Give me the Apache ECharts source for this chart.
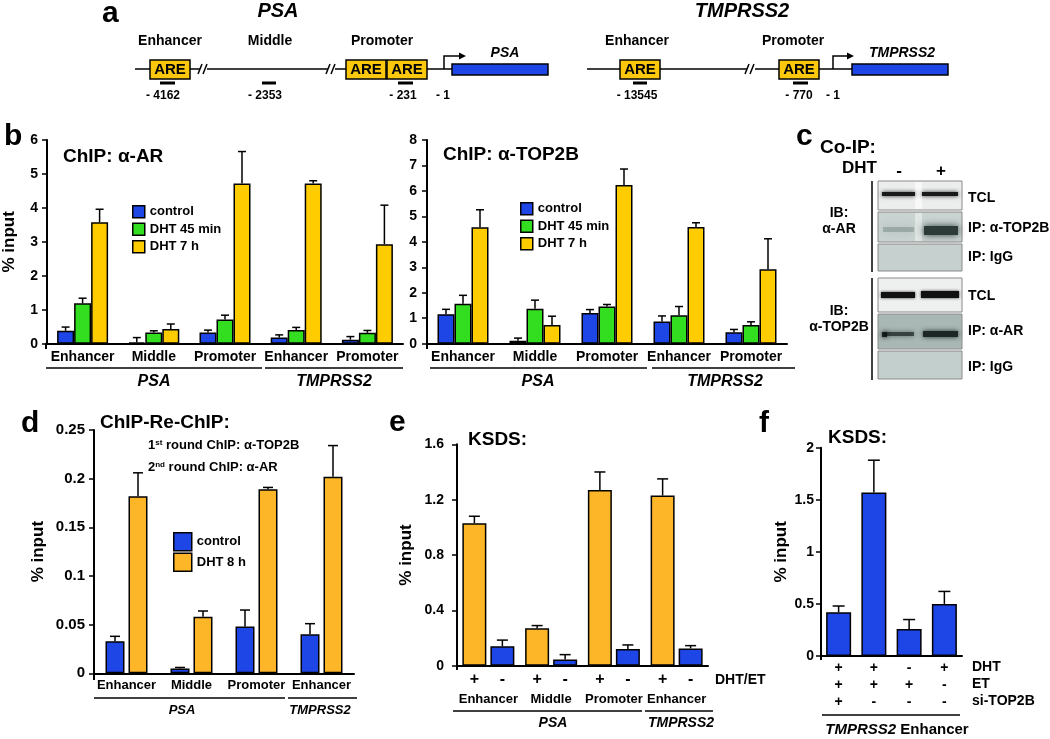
<!DOCTYPE html>
<html>
<head>
<meta charset="utf-8">
<script src="https://cdn.jsdelivr.net/npm/echarts@6/dist/echarts.min.js"></script>
<style>
html,body{margin:0;padding:0;background:#fff;}
#chart{width:1050px;height:739px;}
</style>
</head>
<body>
<div id="chart"></div>
<script>
// ---------------- DATA ----------------
// Panel b (ChIP: alpha-AR and alpha-TOP2B), % input
const catsB = ['Enhancer', 'Middle', 'Promoter', 'Enhancer', 'Promoter'];
const arControl   = [0.38, 0.04, 0.33, 0.18, 0.12];
const arControlSD = [0.11, 0.14, 0.07, 0.08, 0.09];
const arDHT45     = [1.19, 0.33, 0.71, 0.40, 0.32];
const arDHT45SD   = [0.15, 0.05, 0.13, 0.08, 0.07];
const arDHT7      = [3.58, 0.43, 4.72, 4.72, 2.93];
const arDHT7SD    = [0.38, 0.15, 0.94, 0.08, 1.15];

const topControl   = [1.16, 0.12, 1.21, 0.87, 0.45];
const topControlSD = [0.19, 0.10, 0.13, 0.22, 0.11];
const topDHT45     = [1.57, 1.37, 1.46, 1.12, 0.73];
const topDHT45SD   = [0.33, 0.34, 0.08, 0.34, 0.13];
const topDHT7      = [4.57, 0.73, 6.23, 4.58, 2.92];
const topDHT7SD    = [0.69, 0.35, 0.63, 0.17, 1.20];

// Panel d (ChIP-Re-ChIP)
const catsD = ['Enhancer', 'Middle', 'Promoter', 'Enhancer'];
const reControl   = [0.033, 0.005, 0.048, 0.040];
const reControlSD = [0.005, 0.001, 0.017, 0.011];
const reDHT8      = [0.182, 0.058, 0.189, 0.202];
const reDHT8SD    = [0.024, 0.006, 0.002, 0.032];

// Panel e (KSDS), + / - DHT/ET
const catsE = ['Enhancer', 'Middle', 'Promoter', 'Enhancer'];
const ePlus    = [1.03, 0.27, 1.27, 1.23];
const ePlusSD  = [0.05, 0.02, 0.13, 0.12];
const eMinus   = [0.14, 0.045, 0.12, 0.125];
const eMinusSD = [0.045, 0.035, 0.03, 0.02];
const eSigns   = ['+', '-'];

// Panel f (KSDS, TMPRSS2 enhancer)
const fDHT = ['+', '+', '-', '+'];
const fET  = ['+', '+', '+', '-'];
const fSi  = ['+', '-', '-', '-'];
const fVal = [0.42, 1.57, 0.26, 0.50];
const fSD  = [0.06, 0.31, 0.09, 0.12];

// y tick ranges
const yB1 = {min: 0, max: 6, interval: 1};
const yB2 = {min: 0, max: 8, interval: 1};
const yD  = {min: 0, max: 0.25, interval: 0.05};
const yE  = {min: 0, max: 1.6, interval: 0.4};
const yF  = {min: 0, max: 2, interval: 0.5};

// ---------------- STYLE ----------------
const FONT = 'Arial, "Liberation Sans", Helvetica, sans-serif';
const BLUE = '#1e45e6', GREEN = '#33dd1f', YEL = '#ffcc00', ORG = '#fcb628';

const chart = echarts.init(document.getElementById('chart'), null, {renderer: 'canvas'});

function xAx(gi, data, margin, fs, extra) {
  return Object.assign({
    type: 'category', gridIndex: gi, data: data,
    axisLine: {show: true, lineStyle: {color: '#000', width: 2}},
    axisTick: {show: false},
    splitLine: {show: false},
    axisLabel: {color: '#000', fontWeight: 'bold', fontSize: fs, fontFamily: FONT, margin: margin, interval: 0}
  }, extra || {});
}
function yAx(gi, rng, margin, name, gap, fs) {
  return {
    type: 'value', gridIndex: gi, min: rng.min, max: rng.max, interval: rng.interval,
    axisLine: {show: true, lineStyle: {color: '#000', width: 2}},
    axisTick: {show: true, length: 5, lineStyle: {color: '#000', width: 1.5}},
    splitLine: {show: false},
    axisLabel: {color: '#000', fontWeight: 'bold', fontSize: fs || 14, fontFamily: FONT, margin: margin,
      formatter: v => String(+v.toFixed(2))},
    name: name, nameLocation: 'middle', nameRotate: 90, nameGap: gap,
    nameTextStyle: {color: '#000', fontWeight: 'bold', fontSize: 17, fontFamily: FONT}
  };
}
function bars(name, data, color, ai, width, gap, extra) {
  return Object.assign({
    type: 'bar', name: name, data: data, xAxisIndex: ai, yAxisIndex: ai,
    barWidth: width, barGap: gap, z: 2, silent: true,
    itemStyle: {color: color, borderColor: '#000', borderWidth: 1.5}
  }, extra || {});
}
function errBars(means, sds, ai, offset, cap) {
  return {
    type: 'custom', xAxisIndex: ai, yAxisIndex: ai, z: 5, silent: true, clip: false,
    data: means.map((m, i) => [i, m, m + sds[i]]),
    encode: {x: 0, y: [1, 2]},
    renderItem: function (params, api) {
      const base = api.coord([api.value(0), api.value(1)]);
      const top = api.coord([api.value(0), api.value(2)]);
      const x = base[0] + offset;
      return {type: 'group', children: [
        {type: 'line', shape: {x1: x, y1: base[1], x2: x, y2: top[1]}, style: {stroke: '#000', lineWidth: 1.5}},
        {type: 'line', shape: {x1: x - cap / 2, y1: top[1], x2: x + cap / 2, y2: top[1]}, style: {stroke: '#000', lineWidth: 1.5}}
      ]};
    }
  };
}

// ---------------- GRAPHIC HELPERS ----------------
const G = [];
function T(x, y, text, size, o) {
  o = o || {};
  G.push({type: 'text', x: x, y: y, silent: true, z: 10, style: {
    text: text, fontSize: size, fontWeight: o.weight || 'bold', fontStyle: o.italic ? 'italic' : 'normal',
    fontFamily: FONT, fill: '#000', align: o.align || 'left', verticalAlign: 'middle', rich: o.rich
  }});
}
function L(x1, y1, x2, y2, w) {
  G.push({type: 'line', silent: true, z: 10, shape: {x1: x1, y1: y1, x2: x2, y2: y2}, style: {stroke: '#000', lineWidth: w || 1.5}});
}
function R(x, y, w, h, fill, stroke, lw, extra) {
  G.push({type: 'rect', silent: true, z: 10, shape: {x: x, y: y, width: w, height: h},
    style: Object.assign({fill: fill, stroke: stroke || null, lineWidth: lw || 0}, extra || {})});
}

// ---------- Panel letters ----------
T(102, 14, 'a', 30); T(4, 137, 'b', 30); T(796, 137, 'c', 30);
T(21, 424, 'd', 30); T(389, 423, 'e', 30); T(759, 424, 'f', 30);

// ---------- Panel a: gene schematics ----------
T(278, 11, 'PSA', 20, {align: 'center', italic: true});
T(742, 11, 'TMPRSS2', 20, {align: 'center', italic: true});
// PSA locus
L(135, 69, 200, 69); L(207, 69, 328, 69); L(335, 69, 452, 69);
L(198, 74, 202, 64); L(203, 74, 207, 64);
L(326, 74, 330, 64); L(331, 74, 335, 64);
R(150, 60, 40, 19, '#fcc80e', '#000', 1.5);
R(346, 60, 40, 19, '#fcc80e', '#000', 1.5);
R(387, 60, 40, 19, '#fcc80e', '#000', 1.5);
T(170, 70, 'ARE', 15, {align: 'center'}); T(366, 70, 'ARE', 15, {align: 'center'}); T(407, 70, 'ARE', 15, {align: 'center'});
R(452, 64, 96, 11, BLUE, '#000', 1.5);
G.push({type: 'polyline', silent: true, z: 10, shape: {points: [[444, 69], [444, 56], [460, 56]]}, style: {stroke: '#000', lineWidth: 1.5, fill: null}});
G.push({type: 'polygon', silent: true, z: 10, shape: {points: [[459, 52.5], [466, 56], [459, 59.5]]}, style: {fill: '#000'}});
T(505, 53, 'PSA', 14, {align: 'center', italic: true});
T(170, 41, 'Enhancer', 14, {align: 'center'}); T(270, 41, 'Middle', 14, {align: 'center'}); T(382, 41, 'Promoter', 14, {align: 'center'});
L(160, 83, 175, 83, 3); L(262, 83, 276, 83, 3); L(398, 83, 413, 83, 3);
T(163, 96, '- 4162', 12, {align: 'center'}); T(265, 96, '- 2353', 12, {align: 'center'});
T(403, 96, '- 231', 12, {align: 'center'}); T(443, 96, '- 1', 12, {align: 'center'});
// TMPRSS2 locus
L(587, 69, 747, 69); L(755, 69, 852, 69);
L(745, 74, 749, 64); L(750, 74, 754, 64);
R(620, 60, 40, 19, '#fcc80e', '#000', 1.5);
R(779, 60, 40, 19, '#fcc80e', '#000', 1.5);
T(640, 70, 'ARE', 15, {align: 'center'}); T(799, 70, 'ARE', 15, {align: 'center'});
R(852, 64, 96, 11, BLUE, '#000', 1.5);
G.push({type: 'polyline', silent: true, z: 10, shape: {points: [[833, 69], [833, 56], [848, 56]]}, style: {stroke: '#000', lineWidth: 1.5, fill: null}});
G.push({type: 'polygon', silent: true, z: 10, shape: {points: [[847, 52.5], [854, 56], [847, 59.5]]}, style: {fill: '#000'}});
T(902, 53, 'TMPRSS2', 14, {align: 'center', italic: true});
T(637, 41, 'Enhancer', 14, {align: 'center'}); T(793, 41, 'Promoter', 14, {align: 'center'});
L(633, 83, 647, 83, 3); L(793, 83, 808, 83, 3);
T(637, 96, '- 13545', 12, {align: 'center'}); T(799, 96, '- 770', 12, {align: 'center'}); T(833, 96, '- 1', 12, {align: 'center'});

// ---------- Panel b titles & group labels ----------
T(63, 157, 'ChIP: α-AR', 19);
T(443, 155, 'ChIP: α-TOP2B', 19);
L(46, 368, 262, 368, 1.5); L(265, 368, 403, 368, 1.5);
T(154, 382, 'PSA', 16, {align: 'center', italic: true}); T(334, 382, 'TMPRSS2', 16, {align: 'center', italic: true});
L(430, 368, 647, 368, 1.5); L(652, 368, 795, 368, 1.5);
T(538, 382, 'PSA', 16, {align: 'center', italic: true}); T(725, 382, 'TMPRSS2', 16, {align: 'center', italic: true});
// small y-axis extensions below the x axes
L(46, 343, 46, 349, 2); L(427, 343, 427, 349, 2);
L(94, 673, 94, 680, 2); L(457, 665, 457, 670, 2); L(821, 655, 821, 660, 2);

// ---------- Panel c: Co-IP blots ----------
T(820, 148, 'Co-IP:', 19);
T(877, 168, 'DHT', 17, {align: 'right'});
T(899, 171, '-', 17, {align: 'center'}); T(941, 171, '+', 17, {align: 'center'});
L(872, 181, 872, 272, 1.5); L(872, 278, 872, 380, 1.5);
T(839, 213, 'IB:', 14, {align: 'center'}); T(839, 229, 'α-AR', 14, {align: 'center'});
T(839, 311, 'IB:', 14, {align: 'center'}); T(839, 327, 'α-TOP2B', 14, {align: 'center'});
// blot panels
R(878, 181, 84, 29, '#eceeed', '#8a8a8a', 1);
R(878, 212, 84, 30, '#c9d3d1', '#8a8a8a', 1);
R(878, 244, 84, 27, '#c6d1cf', '#8a8a8a', 1);
R(878, 278, 84, 34, '#eef0ef', '#8a8a8a', 1);
R(878, 314, 84, 35, '#a9b8b5', '#8a8a8a', 1);
R(878, 351, 84, 28, '#c3cfcd', '#8a8a8a', 1);
// lane dividers
R(915, 182, 7, 27, '#f7f8f7'); R(915, 213, 7, 28, '#dfe6e4');
// bands
R(882, 192, 33, 4, '#1a1a1a', null, 0, {shadowBlur: 4, shadowColor: 'rgba(0,0,0,0.8)'});
R(922, 192, 36, 4, '#1a1a1a', null, 0, {shadowBlur: 4, shadowColor: 'rgba(0,0,0,0.8)'});
R(883, 227, 31, 5, 'rgba(70,92,90,0.3)', null, 0, {shadowBlur: 8, shadowColor: 'rgba(70,92,90,0.6)'});
R(924, 226, 34, 9, '#2c3a38', null, 0, {shadowBlur: 7, shadowColor: 'rgba(30,45,43,0.9)'});
R(881, 292, 34, 6, '#111', null, 0, {shadowBlur: 3, shadowColor: 'rgba(0,0,0,0.8)'});
R(921, 291, 38, 7, '#111', null, 0, {shadowBlur: 3, shadowColor: 'rgba(0,0,0,0.8)'});
R(884, 332, 30, 4, 'rgba(25,35,33,0.7)', null, 0, {shadowBlur: 5, shadowColor: 'rgba(25,35,33,0.8)'});
R(882, 332, 5, 5, 'rgba(15,20,20,0.9)', null, 0, {shadowBlur: 5, shadowColor: 'rgba(0,0,0,0.9)'});
R(923, 331, 35, 6, '#1c2624', null, 0, {shadowBlur: 5, shadowColor: 'rgba(20,30,28,0.9)'});
T(968, 198, 'TCL', 14); T(968, 228, 'IP: α-TOP2B', 14); T(968, 257, 'IP: IgG', 14);
T(968, 296, 'TCL', 14); T(968, 331, 'IP: α-AR', 14); T(968, 367, 'IP: IgG', 14);

// ---------- Panel d text ----------
T(100, 423, 'ChIP-Re-ChIP:', 19);
T(148, 445, '{n|1}{s|st}{n| round ChIP: α-TOP2B}', 13, {rich: {n: {fontSize: 13, fontWeight: 'bold', fontFamily: FONT}, s: {fontSize: 8, fontWeight: 'bold', fontFamily: FONT, verticalAlign: 'top'}}});
T(148, 467, '{n|2}{s|nd}{n| round ChIP: α-AR}', 13, {rich: {n: {fontSize: 13, fontWeight: 'bold', fontFamily: FONT}, s: {fontSize: 8, fontWeight: 'bold', fontFamily: FONT, verticalAlign: 'top'}}});
L(94, 698, 285, 698, 1.5); L(288, 698, 357, 698, 1.5);
T(182, 710, 'PSA', 13, {align: 'center', italic: true}); T(320, 710, 'TMPRSS2', 13, {align: 'center', italic: true});

// ---------- Panel e text ----------
T(468, 440, 'KSDS:', 19);
T(715, 680, 'DHT/ET', 14);
L(453, 711, 642, 711, 1.5); L(645, 711, 713, 711, 1.5);
T(553, 723, 'PSA', 14, {align: 'center', italic: true}); T(681, 723, 'TMPRSS2', 14, {align: 'center', italic: true});

// ---------- Panel f text ----------
T(828, 438, 'KSDS:', 19);
T(972, 667, 'DHT', 14); T(972, 684, 'ET', 14); T(972, 701, 'si-TOP2B', 14);
L(822, 715, 960, 715, 1.5);
T(897, 730, '{i|TMPRSS2} {n|Enhancer}', 15, {align: 'center', rich: {
  i: {fontSize: 15, fontWeight: 'bold', fontStyle: 'italic', fontFamily: FONT},
  n: {fontSize: 15, fontWeight: 'bold', fontFamily: FONT}}});

const catsF = fDHT.map((d, i) => d + '\n' + fET[i] + '\n' + fSi[i]);

// ---------------- OPTION ----------------
const legendText = {color: '#000', fontWeight: 'bold', fontSize: 13, fontFamily: FONT};
const option = {
  animation: false,
  backgroundColor: '#fff',
  grid: [
    {left: 46, top: 140, width: 357, height: 203.7},
    {left: 427, top: 140, width: 360, height: 203.7},
    {left: 94, top: 430, width: 260, height: 243.3},
    {left: 457, top: 444.3, width: 251, height: 221.4},
    {left: 821, top: 447.7, width: 141, height: 208.3}
  ],
  xAxis: [
    xAx(0, catsB, 6, 14),
    xAx(1, catsB, 6, 14),
    xAx(2, catsD, 6, 13),
    xAx(3, catsE, 27, 13),
    xAx(4, catsF, 4, 14, {axisLabel: {color: '#000', fontWeight: 'bold', fontSize: 14, fontFamily: FONT, margin: 4, interval: 0, lineHeight: 17}})
  ],
  yAxis: [
    yAx(0, yB1, 9, '% input', 29),
    yAx(1, yB2, 10, '', 0),
    yAx(2, yD, 9, '% input', 47, 15),
    yAx(3, yE, 13, '% input', 42),
    yAx(4, yF, 7, '% input', 31)
  ],
  legend: [
    {data: ['control', 'DHT 45 min', 'DHT 7 h'], orient: 'vertical', left: 127, top: 200, itemWidth: 12, itemHeight: 12, itemGap: 4,
      icon: 'rect', selectedMode: false, textStyle: legendText, itemStyle: {borderColor: '#000', borderWidth: 1.5}},
    {data: ['control', 'DHT 45 min', 'DHT 7 h'], orient: 'vertical', left: 515, top: 197, itemWidth: 12, itemHeight: 12, itemGap: 4,
      icon: 'rect', selectedMode: false, textStyle: legendText, itemStyle: {borderColor: '#000', borderWidth: 1.5}},
    {data: ['control', 'DHT 8 h'], orient: 'vertical', left: 168, top: 527, itemWidth: 18, itemHeight: 18, itemGap: 1,
      icon: 'rect', selectedMode: false, textStyle: legendText, itemStyle: {borderColor: '#000', borderWidth: 1.5}}
  ],
  graphic: G,
  series: [
    bars('control', arControl, BLUE, 0, 17, '0%'),
    bars('DHT 45 min', arDHT45, GREEN, 0, 17, '0%'),
    bars('DHT 7 h', arDHT7, YEL, 0, 17, '0%'),
    errBars(arControl, arControlSD, 0, -17, 8),
    errBars(arDHT45, arDHT45SD, 0, 0, 8),
    errBars(arDHT7, arDHT7SD, 0, 17, 8),

    bars('control', topControl, BLUE, 1, 17, '0%'),
    bars('DHT 45 min', topDHT45, GREEN, 1, 17, '0%'),
    bars('DHT 7 h', topDHT7, YEL, 1, 17, '0%'),
    errBars(topControl, topControlSD, 1, -17, 8),
    errBars(topDHT45, topDHT45SD, 1, 0, 8),
    errBars(topDHT7, topDHT7SD, 1, 17, 8),

    bars('control', reControl, BLUE, 2, 19, '21%'),
    bars('DHT 8 h', reDHT8, ORG, 2, 19, '21%'),
    errBars(reControl, reControlSD, 2, -11.5, 10),
    errBars(reDHT8, reDHT8SD, 2, 11.5, 10),

    bars('DHT/ET +', ePlus, ORG, 3, 24, '16.7%', {label: {show: true, position: 'bottom', distance: 6, formatter: () => eSigns[0],
      color: '#000', fontWeight: 'bold', fontSize: 16, fontFamily: FONT}}),
    bars('DHT/ET -', eMinus, BLUE, 3, 24, '16.7%', {label: {show: true, position: 'bottom', distance: 6, formatter: () => eSigns[1],
      color: '#000', fontWeight: 'bold', fontSize: 16, fontFamily: FONT}}),
    errBars(ePlus, ePlusSD, 3, -14, 11),
    errBars(eMinus, eMinusSD, 3, 14, 11),

    bars('KSDS', fVal, BLUE, 4, 25, '0%'),
    errBars(fVal, fSD, 4, 0, 12)
  ]
};
chart.setOption(option);
</script>
</body>
</html>
